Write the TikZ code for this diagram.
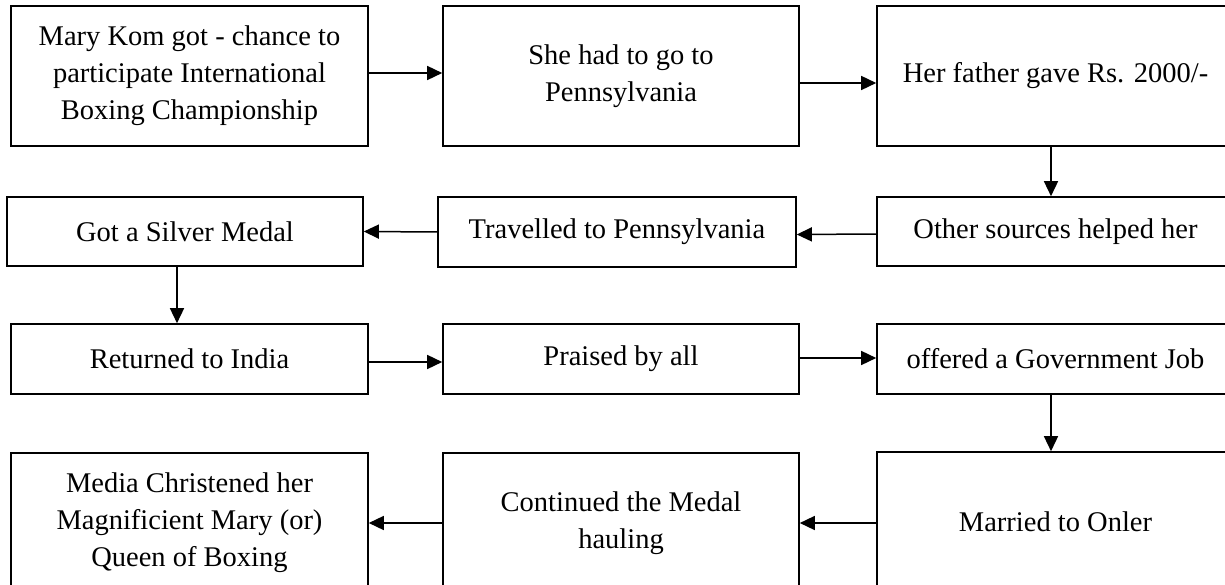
\documentclass[tikz,border=0pt]{standalone}
\usepackage{fontspec}
\setmainfont{Liberation Serif}
\usetikzlibrary{arrows.meta}

\begin{document}
\begin{tikzpicture}[x=1pt,y=-1pt,
  box/.style={draw=black, line width=1.6pt, rectangle, align=center,
    inner sep=0pt, font=\fontsize{28.5}{37}\selectfont},
  flow/.style={line width=1.5pt, -{Triangle[length=15pt,width=14pt]}}]
  \useasboundingbox (0,0) rectangle (1225,585);
  \clip (0,0) rectangle (1225,585);

  % first row
  \node[box, minimum width=357pt, minimum height=140pt] (A) at (189.5,76)
    {Mary Kom got - chance to\\participate International\\Boxing Championship};
  \node[box, minimum width=356pt, minimum height=140pt] (B) at (621,76)
    {She had to go to\\Pennsylvania};
  \node[box, minimum width=357pt, minimum height=140pt] (C) at (1055.5,76)
    {Her father gave Rs. 2000/-};

  % second row
  \node[box, minimum width=357pt, minimum height=69pt] (D) at (1055.5,231.5)
    {Other sources helped her};
  \node[box, minimum width=358pt, minimum height=70pt] (E) at (617,232)
    {Travelled to Pennsylvania};
  \node[box, minimum width=356pt, minimum height=69pt] (F) at (185,231.5)
    {Got a Silver Medal};

  % third row
  \node[box, minimum width=357pt, minimum height=70pt] (G) at (189.5,359)
    {Returned to India};
  \node[box, minimum width=356pt, minimum height=70pt] (H) at (621,359)
    {Praised by all};
  \node[box, minimum width=357pt, minimum height=70pt] (I) at (1055.5,359)
    {offered a Government Job};

  % fourth row
  \node[box, minimum width=357pt, minimum height=140pt] (J) at (1055.5,522)
    {Married to Onler};
  \node[box, minimum width=356pt, minimum height=140pt] (L) at (621,523)
    {Continued the Medal\\hauling};
  \node[box, minimum width=357pt, minimum height=140pt] (K) at (189.5,523)
    {Media Christened her\\Magnificient Mary (or)\\Queen of Boxing};

  % connectors
  \draw[flow] ([yshift=3pt]A.east) -- ([yshift=3pt]B.west);
  \draw[flow] ([yshift=-7pt]B.east) -- ([yshift=-7pt]C.west);
  \draw[flow] ([xshift=-4.5pt]C.south) -- ([xshift=-4.5pt]D.north);
  \draw[flow] ([yshift=-2.5pt]D.west) -- ([yshift=-2.5pt]E.east);
  \draw[flow] (E.west) -- (F.east);
  \draw[flow] ([xshift=-8pt]F.south) -- ([xshift=-12.5pt]G.north);
  \draw[flow] ([yshift=-3pt]G.east) -- ([yshift=-3pt]H.west);
  \draw[flow] ([yshift=1pt]H.east) -- ([yshift=1pt]I.west);
  \draw[flow] ([xshift=-4.5pt]I.south) -- ([xshift=-4.5pt]J.north);
  \draw[flow] ([yshift=-1pt]J.west) -- (L.east);
  \draw[flow] (L.west) -- (K.east);
\end{tikzpicture}
\end{document}
